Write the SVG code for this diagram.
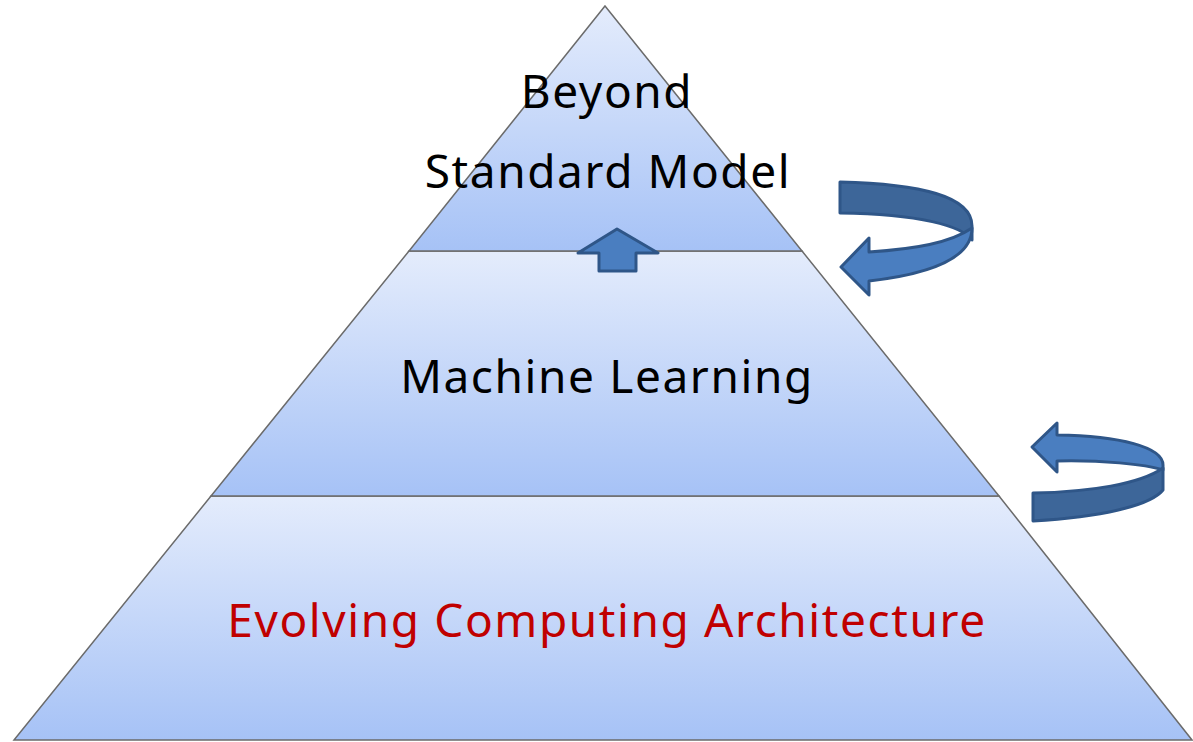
<svg xmlns="http://www.w3.org/2000/svg" width="1193" height="742" viewBox="0 0 1193 742">
  <defs>
    <linearGradient id="tierFill" x1="0" y1="0" x2="0" y2="1">
      <stop offset="0" stop-color="#e4ecfc"/>
      <stop offset="1" stop-color="#a6c2f6"/>
    </linearGradient>
    <style>
      .tier { fill: url(#tierFill); stroke: #6b6b6b; stroke-width: 1.5; stroke-linejoin: miter; }
      .label { font-family: "Noto Sans", "Open Sans", sans-serif; font-size: 46px; letter-spacing: 1.6px; text-anchor: middle; fill: #000000; }
      .red { fill: #c00000; }
      .arrow-front { fill: #4a7ec0; stroke: #2f5688; stroke-width: 3; stroke-linejoin: round; }
      .arrow-back { fill: #3d6699; stroke: #2f5688; stroke-width: 3; stroke-linejoin: round; }
    </style>
  </defs>
  <rect width="1193" height="742" fill="#ffffff"/>

  <g id="tier-bottom">
    <polygon class="tier" points="211,496 999,496 1192,740 14,740"/>
    <text class="label red" x="607" y="637">Evolving Computing Architecture</text>
  </g>

  <g id="tier-middle">
    <polygon class="tier" points="409,251 802,251 999,496 211,496"/>
    <text class="label" x="607" y="393">Machine Learning</text>
  </g>

  <g id="tier-top">
    <polygon class="tier" points="605,6 802,251 409,251"/>
    <text class="label" x="607" y="108">Beyond</text>
    <text class="label" x="608" y="188">Standard Model</text>
  </g>

  <g id="connectors">
    <!-- upward arrow between middle and top tiers -->
    <path class="arrow-front" d="M617,229 L658,253 L636,253 L636,271 L599,271 L599,253 L578,253 Z"/>

    <!-- curved arrow beside the top tier -->
    <path class="arrow-back" d="M840,182 C920,184 972,196 972,226 L972,240 C962,226 920,214 840,213 Z"/>
    <path class="arrow-front" d="M972,228 C972,258 930,274 869,281 L869,295 L841,267 L869,238 L869,252 C915,249 950,243 972,228 Z"/>

    <!-- curved arrow beside the middle tier -->
    <path class="arrow-front" d="M1032,447 L1057,423 L1057,435 C1120,436 1163,447 1163,465 L1163,470 C1145,464 1100,460 1057,461 L1057,472 Z"/>
    <path class="arrow-back" d="M1033,493 C1090,492 1140,484 1163,468 L1163,490 C1150,506 1100,517 1033,521 Z"/>
  </g>
</svg>
